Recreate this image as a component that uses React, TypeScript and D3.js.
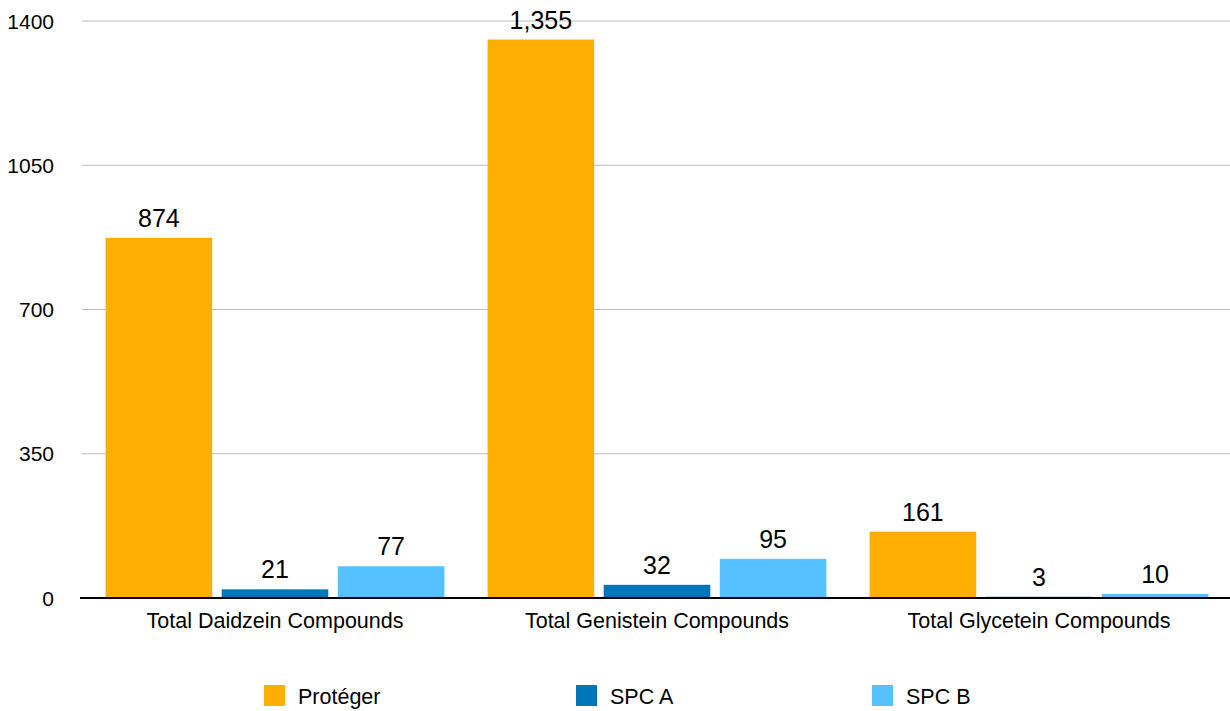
import { useEffect, useRef } from 'react';
import * as d3 from 'd3';

const categories = ['Total Daidzein Compounds', 'Total Genistein Compounds', 'Total Glycetein Compounds'];
const seriesNames = ['Protéger', 'SPC A', 'SPC B'];
const protegerValues = [874, 1355, 161];
const spcAValues = [21, 32, 3];
const spcBValues = [77, 95, 10];
const yTicks = [0, 350, 700, 1050, 1400];
const colors = ['#FEAE00', '#0076BA', '#56C1FF'];

const W = 1230;
const H = 711;
const FONT = '"Liberation Sans", Arial, Helvetica, sans-serif';

const App = () => {
  const ref = useRef<SVGSVGElement>(null);

  useEffect(() => {
    const svg = d3.select(ref.current);
    svg.selectAll('*').remove();

    const margin = { top: 21, right: 0, bottom: 113, left: 80 };
    const seriesValues = [protegerValues, spcAValues, spcBValues];

    // bands start a few px right of the axis line
    const x = d3
      .scaleBand()
      .domain(categories)
      .range([margin.left + 4, W - margin.right])
      .padding(0);

    const xInner = d3
      .scaleBand()
      .domain(seriesNames)
      .range([0, x.bandwidth()])
      .paddingInner(0.082)
      .paddingOuter(0.186);

    const y = d3
      .scaleLinear()
      .domain([0, 1400])
      .range([H - margin.bottom, margin.top]);

    // gridlines
    svg
      .append('g')
      .selectAll('line')
      .data(yTicks.filter((t) => t > 0))
      .enter()
      .append('line')
      .attr('x1', 82)
      .attr('x2', W - margin.right)
      .attr('y1', (d) => y(d))
      .attr('y2', (d) => y(d))
      .attr('stroke', '#bdbdbd')
      .attr('stroke-width', 1);

    // y tick labels
    svg
      .append('g')
      .selectAll('text')
      .data(yTicks)
      .enter()
      .append('text')
      .attr('x', 54)
      .attr('y', (d) => y(d))
      .attr('dy', '0.36em')
      .attr('text-anchor', 'end')
      .attr('font-family', FONT)
      .attr('font-size', 21)
      .attr('fill', '#000')
      .text((d) => d);

    // bars
    const groups = svg
      .append('g')
      .selectAll('g')
      .data(categories)
      .enter()
      .append('g')
      .attr('transform', (d) => `translate(${x(d)},0)`);

    const fmt = d3.format(',');

    seriesNames.forEach((name, si) => {
      groups
        .append('rect')
        .attr('x', xInner(name))
        .attr('y', (_, i) => y(seriesValues[si][i]))
        .attr('width', xInner.bandwidth())
        .attr('height', (_, i) => y(0) - y(seriesValues[si][i]))
        .attr('fill', colors[si]);

      groups
        .append('text')
        .attr('x', xInner(name) + xInner.bandwidth() / 2)
        .attr('y', (_, i) => y(seriesValues[si][i]) - 11)
        .attr('text-anchor', 'middle')
        .attr('font-family', FONT)
        .attr('font-size', 25)
        .attr('fill', '#000')
        .text((_, i) => fmt(seriesValues[si][i]));
    });

    // baseline
    svg
      .append('line')
      .attr('x1', margin.left)
      .attr('x2', W - margin.right)
      .attr('y1', y(0))
      .attr('y2', y(0))
      .attr('stroke', '#000')
      .attr('stroke-width', 2);

    // category labels
    svg
      .append('g')
      .selectAll('text')
      .data(categories)
      .enter()
      .append('text')
      .attr('x', (d) => x(d) + x.bandwidth() / 2)
      .attr('y', y(0) + 30)
      .attr('text-anchor', 'middle')
      .attr('font-family', FONT)
      .attr('font-size', 21.5)
      .attr('fill', '#000')
      .text((d) => d);

    // legend
    const legendX = [264, 576, 872];
    const legend = svg
      .append('g')
      .selectAll('g')
      .data(seriesNames)
      .enter()
      .append('g')
      .attr('transform', (_, i) => `translate(${legendX[i]},685)`);

    legend
      .append('rect')
      .attr('width', 21)
      .attr('height', 21)
      .attr('fill', (_, i) => colors[i]);

    legend
      .append('text')
      .attr('x', 34)
      .attr('y', 19)
      .attr('font-family', FONT)
      .attr('font-size', 21.5)
      .attr('fill', '#000')
      .text((d) => d);
  }, []);

  return (
    <svg
      ref={ref}
      width={W}
      height={H}
      style={{ position: 'absolute', left: 0, top: 0, background: '#fff' }}
    ></svg>
  );
};

export default App;
